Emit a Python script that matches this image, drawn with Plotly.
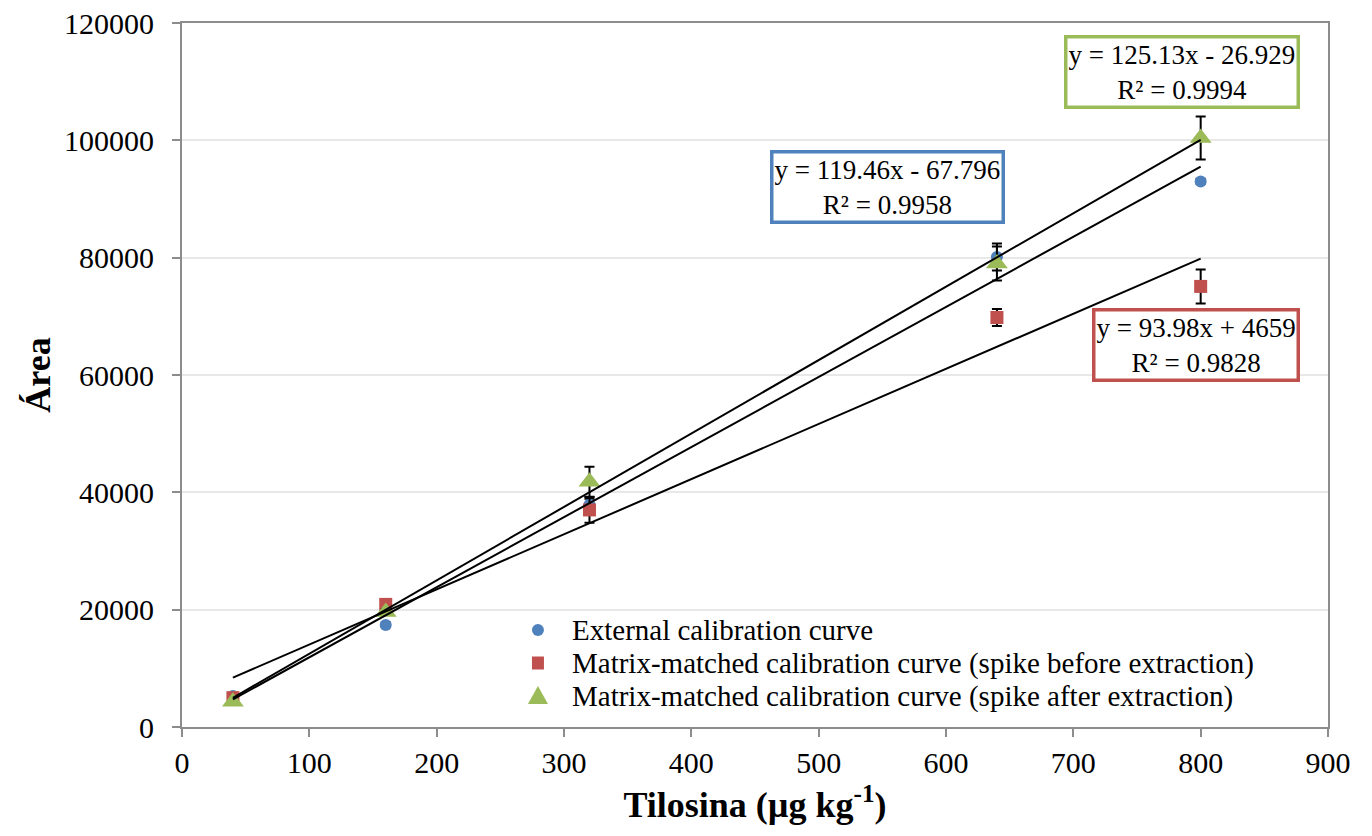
import plotly.graph_objects as go

# ---- data ----
conc = [40, 160, 320, 640, 800]

external_area = [5300, 17400, 37900, 80100, 93000]
external_err = [300, 400, 1000, 2300, 400]

mm_before_area = [5000, 20900, 37000, 69800, 75100]
mm_before_err = [300, 500, 2200, 1450, 2900]

mm_after_area = [4300, 19600, 41800, 79000, 100400]
mm_after_err = [300, 500, 2550, 2900, 3650]

series_names = [
    "External calibration curve",
    "Matrix-matched calibration curve (spike before extraction)",
    "Matrix-matched calibration curve (spike after extraction)",
]
slopes = [119.46, 93.98, 125.13]
intercepts = [-67.796, 4659, -26.929]
equation_labels = [
    "y = 119.46x - 67.796<br>R² = 0.9958",
    "y = 93.98x + 4659<br>R² = 0.9828",
    "y = 125.13x - 26.929<br>R² = 0.9994",
]
label_pos = [(553.7, 92040), (796.7, 65110), (785.3, 111720)]

colors = ["#4F81BD", "#C0504D", "#9BBB59"]
symbols = ["circle", "square", "triangle-up"]
sizes = [12, 13, 19]

FONT = "Liberation Serif, Times New Roman, serif"

fig = go.Figure()

areas = [external_area, mm_before_area, mm_after_area]
errs = [external_err, mm_before_err, mm_after_err]

for name, ys, es, c, s, sz in zip(series_names, areas, errs, colors, symbols, sizes):
    fig.add_trace(go.Scatter(
        x=conc, y=ys, mode="markers", name=name, showlegend=False,
        marker=dict(color=c, symbol=s, size=sz, line=dict(width=0)),
        error_y=dict(type="data", array=es, visible=True, color="black",
                     thickness=2, width=5),
    ))

# trend lines (from regression equations)
xmin, xmax = min(conc), max(conc)
for m, b in zip(slopes, intercepts):
    fig.add_trace(go.Scatter(
        x=[xmin, xmax], y=[m * xmin + b, m * xmax + b],
        mode="lines", line=dict(color="black", width=2),
        showlegend=False, hoverinfo="skip",
    ))

for txt, (ax, ay), c in zip(equation_labels, label_pos, colors):
    fig.add_annotation(
        x=ax, y=ay, xref="x", yref="y", text=txt, showarrow=False,
        font=dict(family=FONT, size=27, color="black"),
        bgcolor="white", bordercolor=c, borderwidth=3.5, borderpad=1,
        align="center",
    )

# ---- legend (compact, drawn as layout items) ----
leg_x = 0.3106
leg_text_x = 0.3386
leg_rows = [0.1378, 0.0909, 0.0440]
marker_paths = [
    None,
    None,
    "M -10,-8 L 10,-8 L 0,10 Z",
]
for i, (name, c, ly) in enumerate(zip(series_names, colors, leg_rows)):
    if i == 0:
        fig.add_shape(type="circle", xref="paper", yref="paper",
                      xsizemode="pixel", ysizemode="pixel",
                      xanchor=leg_x, yanchor=ly, x0=-6, x1=6, y0=-6, y1=6,
                      fillcolor=c, line=dict(width=0))
    elif i == 1:
        fig.add_shape(type="rect", xref="paper", yref="paper",
                      xsizemode="pixel", ysizemode="pixel",
                      xanchor=leg_x, yanchor=ly, x0=-6, x1=6, y0=-6.5, y1=6.5,
                      fillcolor=c, line=dict(width=0))
    else:
        fig.add_shape(type="path", xref="paper", yref="paper",
                      xsizemode="pixel", ysizemode="pixel",
                      xanchor=leg_x, yanchor=ly, path=marker_paths[i],
                      fillcolor=c, line=dict(width=0))
    fig.add_annotation(x=leg_text_x, y=ly, xref="paper", yref="paper",
                       text=name, showarrow=False, xanchor="left", yanchor="middle",
                       font=dict(family=FONT, size=29, color="black"))

fig.update_layout(
    width=1372, height=836,
    margin=dict(l=182, r=44, t=23, b=109),
    paper_bgcolor="white", plot_bgcolor="white",
    font=dict(family=FONT, size=30, color="black"),
    showlegend=False,
)

fig.update_xaxes(
    range=[0, 900], dtick=100, tick0=0, automargin=False,
    showgrid=False, zeroline=False,
    showline=True, linecolor="#8C8C8C", linewidth=2, mirror=True,
    ticks="outside", ticklen=8, tickcolor="#8C8C8C", tickwidth=2,
    tickfont=dict(family=FONT, size=30, color="black"),
    title=dict(text="<b>Tilosina (µg kg<sup>-1</sup>)</b>",
               font=dict(family=FONT, size=36, color="black"), standoff=14),
)
fig.update_yaxes(
    range=[0, 120000], dtick=20000, tick0=0, tickformat="d", automargin=False,
    showgrid=True, gridcolor="#E8E8E8", gridwidth=1.5, zeroline=False,
    showline=True, linecolor="#8C8C8C", linewidth=2, mirror=True,
    ticks="outside", ticklen=8, tickcolor="#8C8C8C", tickwidth=2,
    ticklabelstandoff=12,
    tickfont=dict(family=FONT, size=30, color="black"),
    title=dict(text="<b>Área</b>",
               font=dict(family=FONT, size=36, color="black"), standoff=2),
)

fig.write_html("out.html")
